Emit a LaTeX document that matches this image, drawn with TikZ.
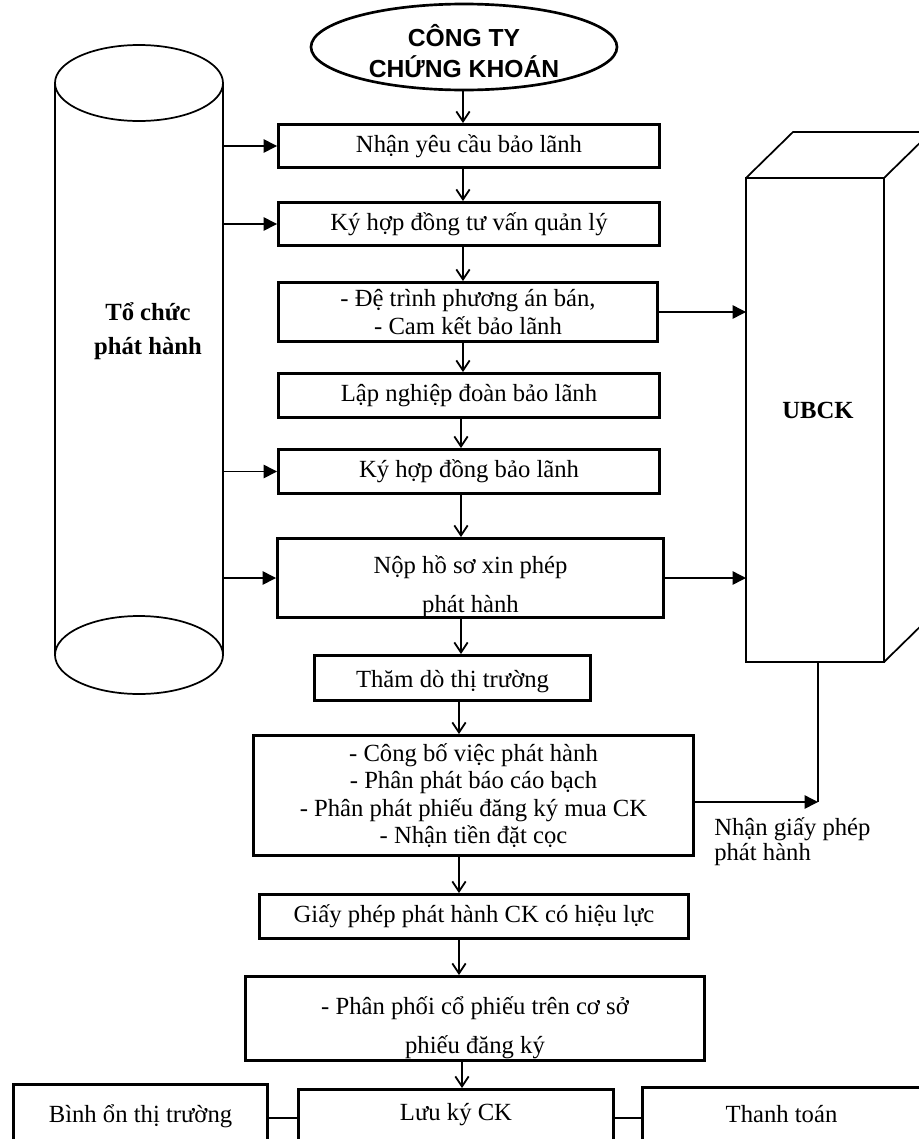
\documentclass[tikz,border=0pt]{standalone}
\usepackage{fontspec}
\setmainfont{Liberation Serif}
\newfontfamily\titlefont{Liberation Sans}
\usetikzlibrary{arrows.meta,shapes.geometric}
\begin{document}
\begin{tikzpicture}[x=0.75pt,y=-0.75pt,
  every node/.style={inner sep=0pt},
  box/.style={draw, line width=2.2pt, align=center, font=\fontsize{18.5}{20.6}\selectfont},
  sz/.style 2 args={minimum width=#1*0.75pt, minimum height=#2*0.75pt},
  flow/.style={line width=1.35pt, -{Straight Barb[length=7.5pt,width=10pt,line width=1.35pt]}},
  side/.style={line width=1.1pt, -{Triangle[length=10pt,width=10pt]}},
  shapeline/.style={line width=1.3pt},
  plain/.style={line width=1.2pt},
  txt/.style={font=\fontsize{18.5}{19}\selectfont, align=left},
  boldtxt/.style={font=\bfseries\fontsize{18.5}{25.5}\selectfont, align=center},
]
\useasboundingbox (0,0) rectangle (919,1139);

% columns for the vertical flow
\coordinate (c1) at (463,0);
\coordinate (c2) at (461,0);
\coordinate (c3) at (459,0);
\coordinate (c4) at (462,0);

% company (ellipse)
\node[draw, ellipse, line width=2pt, sz={306}{86}] (ctck) at (464,47) {};
\node[font=\titlefont\bfseries\fontsize{18.5}{23}\selectfont, align=center] (ctckl) at (464,51) {CÔNG TY\\CHỨNG KHOÁN};

% issuer (cylinder)
\draw[shapeline] (55,83) -- (55,655);
\draw[shapeline] (223,83) -- (223,655);
\draw[shapeline] (139,83) ellipse [x radius=84, y radius=38];
\draw[shapeline] (139,655) ellipse [x radius=84, y radius=39];
\coordinate (cylR) at (223,0);
\node[boldtxt] (tochuc) at (148,331) {Tổ chức\\phát hành};

% UBCK (box in perspective)
\draw[shapeline] (746,178) rectangle (884,662);
\draw[shapeline] (746,178) -- (793,132) -- (931,132) -- (884,178);
\draw[shapeline] (931,132) -- (931,616) -- (884,662);
\coordinate (ubckL) at (746,0);
\coordinate (ubckB) at (818,662);
\node[boldtxt] (ubck) at (818,410) {UBCK};

% process boxes
\node[box, sz={381}{43}] (b1) at (469,146) {Nhận yêu cầu bảo lãnh};
\node[box, sz={381}{43}] (b2) at (469,224) {Ký hợp đồng tư vấn quản lý};
\node[box, sz={379}{59}] (b3) at (468,312) {- Đệ trình phương án bán,\\- Cam kết bảo lãnh};
\node[box, sz={381}{44}] (b4) at (469,395.5) {Lập nghiệp đoàn bảo lãnh};
\node[box, sz={381}{44}] (b5) at (469,471.5) {Ký hợp đồng bảo lãnh};
\node[box, sz={386}{79}] (b6) at (470.5,578) {\rule{0pt}{26pt}Nộp hồ sơ xin phép\\[8.5pt]phát hành};
\node[box, sz={276}{45}] (b7) at (452.5,678) {\rule{0pt}{18pt}Thăm dò thị trường};
\node[box, sz={440}{120}] (b8) at (473.5,795.5) {- Công bố việc phát hành\\- Phân phát báo cáo bạch\\- Phân phát phiếu đăng ký mua CK\\- Nhận tiền đặt cọc};
\node[box, sz={429}{44}] (b9) at (474,916.5) {Giấy phép phát hành CK có hiệu lực};
\node[box, sz={459}{84}] (b10) at (475,1018.5) {\rule{0pt}{27pt}- Phân phối cổ phiếu trên cơ sở\\[9pt]phiếu đăng ký};
\node[box, sz={254}{64}, text depth=4pt] (binh) at (140.5,1116.5) {Bình ổn thị trường};
\node[box, sz={315}{59}, text depth=10pt] (luu) at (456,1119) {Lưu ký CK};
\node[box, sz={278}{61}, text depth=6pt] (thanh) at (781.5,1118) {Thanh toán};

% vertical flow
\draw[flow] (ctck.south -| c1) -- (b1.north -| c1);
\draw[flow] (b1.south -| c1) -- (b2.north -| c1);
\draw[flow] (b2.south -| c1) -- (b3.north -| c1);
\draw[flow] (b3.south -| c1) -- (b4.north -| c1);
\draw[flow] (b4.south -| c2) -- (b5.north -| c2);
\draw[flow] (b5.south -| c2) -- (b6.north -| c2);
\draw[flow] (b6.south -| c2) -- (b7.north -| c2);
\draw[flow] (b7.south -| c3) -- (b8.north -| c3);
\draw[flow] (b8.south -| c3) -- (b9.north -| c3);
\draw[flow] (b9.south -| c3) -- (b10.north -| c3);
\draw[flow] (b10.south -| c4) -- (luu.north -| c4);

% from issuer
\draw[side] (b1.west -| cylR) -- (b1.west);
\draw[side] (b2.west -| cylR) -- (b2.west);
\draw[side] (b5.west -| cylR) -- (b5.west);
\draw[side] (b6.west -| cylR) -- (b6.west);

% to UBCK
\draw[side] (b3.east) -- (b3.east -| ubckL);
\draw[side] (b6.east) -- (b6.east -| ubckL);

% permit back from UBCK
\coordinate (junc) at (818,802);
\draw[plain] (ubckB) -- (junc);
\draw[side] (b8.east |- junc) -- (junc);
\node[txt, anchor=north west] (permit) at (714,817) {Nhận giấy phép\\phát hành};

% bottom row links
\coordinate (row) at (0,1118);
\draw[plain] (binh.east |- row) -- (luu.west |- row);
\draw[plain] (luu.east |- row) -- (thanh.west |- row);
\end{tikzpicture}
\end{document}
